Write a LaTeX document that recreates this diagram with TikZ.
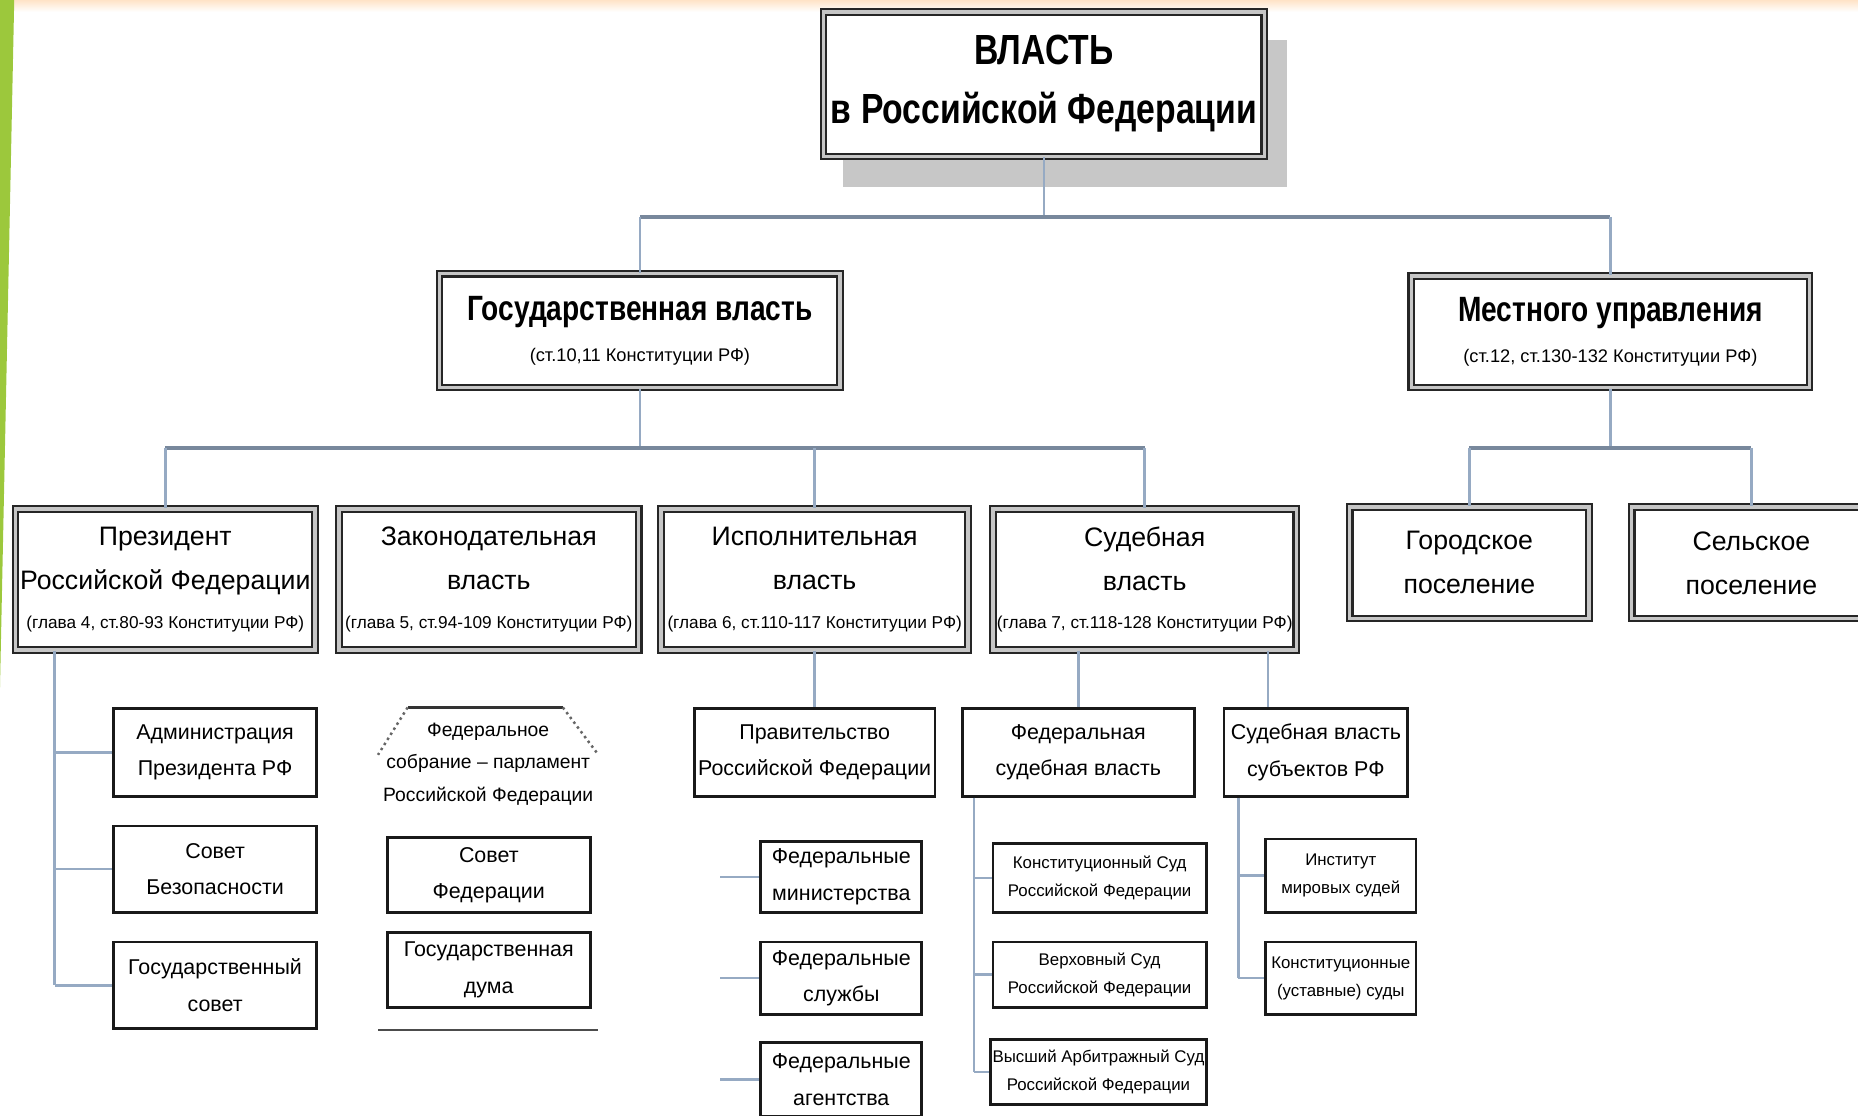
\documentclass[tikz,border=0pt]{standalone}
\usepackage{fontspec}
\setmainfont{Liberation Sans}
\newfontfamily\narrowfont{Liberation Sans}[FakeStretch=0.8]

\definecolor{linkblue}{RGB}{150,170,195}
\definecolor{leafgreen}{RGB}{156,200,60}

\newcommand{\ftitle}{\narrowfont\bfseries\fontsize{12}{16.8}\selectfont}
\newcommand{\fhead}{\narrowfont\bfseries\fontsize{10}{11.5}\selectfont}
\newcommand{\fnote}{\normalfont\fontsize{5.2}{6}\selectfont}
\newcommand{\fbranch}{\fontsize{7.6}{12.5}\selectfont}
\newcommand{\fleaf}{\fontsize{6.1}{10.4}\selectfont}
\newcommand{\fcourt}{\fontsize{4.8}{8}\selectfont}

\tikzset{link/.style={draw=linkblue, line width=0.7pt}}
\tikzset{buslink/.style={draw=linkblue!80!black, line width=1.3pt}}
\tikzset{bigbox/.style={draw=black!85, double=gray!45, double distance=1pt,
    line width=0.6pt, fill=white, align=center, inner sep=0pt}}
\tikzset{smallbox/.style={draw=black!90, line width=0.8pt, fill=white,
    align=center, inner sep=0pt}}
\tikzset{wh/.style 2 args={minimum width=#1*0.01185cm, minimum height=#2*0.01185cm}}

\begin{document}
\begin{tikzpicture}[x=0.01185cm, y=-0.01185cm]
    \useasboundingbox (0,0) rectangle (1568,941);

    % slide decoration
    \shade[top color=orange!22, bottom color=white] (0,0) rectangle (1568,10);
    \fill[leafgreen] (0,0) -- (12,0) -- (0,580) -- cycle;

    % shadow of the title
    \fill[black!22] (711,34) rectangle (1086,158);

    % Top
    \node[bigbox, wh={372}{122}, font=\ftitle] (title) at (881,71)
        {ВЛАСТЬ\\в Российской Федерации};

    \node[bigbox, wh={338}{96}, font=\fhead] (gos) at (540,279)
        {Государственная власть\\{\fnote (ст.10,11 Конституции РФ)}};
    \node[bigbox, wh={336}{94}, font=\fhead] (mest) at (1359,280)
        {Местного управления\\{\fnote (ст.12, ст.130-132 Конституции РФ)}};

    % Branches
    \node[bigbox, wh={253}{119}, font=\fbranch] (pres) at (139.5,489)
        {Президент\\Российской Федерации\\[-1.5pt]{\fontsize{4.9}{6}\selectfont (глава 4, ст.80-93 Конституции РФ)}};
    \node[bigbox, wh={253}{119}, font=\fbranch] (zak) at (412.5,489)
        {Законодательная\\власть\\[-1.5pt]{\fontsize{4.9}{6}\selectfont (глава 5, ст.94-109 Конституции РФ)}};
    \node[bigbox, wh={259}{119}, font=\fbranch] (isp) at (687.5,489)
        {Исполнительная\\власть\\[-1.5pt]{\fontsize{4.9}{6}\selectfont (глава 6, ст.110-117 Конституции РФ)}};
    \node[bigbox, wh={256}{119}, font=\fbranch] (sud) at (966,489)
        {Судебная\\власть\\[-1.5pt]{\fontsize{4.9}{6}\selectfont (глава 7, ст.118-128 Конституции РФ)}};

    \node[bigbox, wh={202}{94}, font=\fbranch] (gor) at (1240,475) {Городское\\поселение};
    \node[bigbox, wh={202}{94}, font=\fbranch] (sel) at (1478,475) {Сельское\\поселение};

    % President
    \node[smallbox, wh={171}{74}, font=\fleaf] (adm) at (181.5,635) {Администрация\\Президента РФ};
    \node[smallbox, wh={171}{73}, font=\fleaf] (sovbez) at (181.5,733.5) {Совет\\Безопасности};
    \node[smallbox, wh={171}{73}, font=\fleaf] (gossov) at (181.5,831.5) {Государственный\\совет};

    % Parliament
    \node[align=center, inner sep=0pt, font={\fontsize{5.5}{9.3}\selectfont}] (fedsob) at (412,645)
        {Федеральное\\собрание – парламент\\Российской Федерации};
    \draw[line width=0.7pt, black!80] (344,597) -- (475,597);
    \draw[densely dotted, line width=0.7pt, black!60] (344,597) -- (319,637);
    \draw[densely dotted, line width=0.7pt, black!60] (475,597) -- (505,637);
    \draw[line width=0.7pt, black!70] (319,869) -- (505,869);
    \node[smallbox, wh={171}{63}, font=\fleaf] (sovfed) at (412.5,738.5) {Совет\\Федерации};
    \node[smallbox, wh={171}{63}, font=\fleaf] (gosduma) at (412.5,818.5) {Государственная\\дума};

    % Government
    \node[smallbox, wh={203}{74}, font=\fleaf] (prav) at (687.5,635) {Правительство\\Российской Федерации};
    \node[smallbox, wh={136}{60}, font=\fleaf] (minist) at (710,740) {Федеральные\\министерства};
    \node[smallbox, wh={136}{61}, font=\fleaf] (sluzh) at (710,825.5) {Федеральные\\службы};
    \node[smallbox, wh={136}{62}, font=\fleaf] (agent) at (710,911) {Федеральные\\агентства};

    % Courts
    \node[smallbox, wh={196}{74}, font=\fleaf] (fedsud) at (910,635) {Федеральная\\судебная власть};
    \node[smallbox, wh={180}{58}, font=\fcourt] (konsud) at (928,741) {Конституционный Суд\\Российской Федерации};
    \node[smallbox, wh={180}{55}, font=\fcourt] (versud) at (928,822.5) {Верховный Суд\\Российской Федерации};
    \node[smallbox, wh={182}{55}, font=\fcourt] (arbsud) at (927,904.5) {Высший Арбитражный Суд\\Российской Федерации};

    \node[smallbox, wh={155}{74}, font=\fleaf] (subj) at (1110.5,635) {Судебная власть\\субъектов РФ};
    \node[smallbox, wh={127}{62}, font=\fcourt] (mirsud) at (1131.5,739) {Институт\\мировых судей};
    \node[smallbox, wh={127}{61}, font=\fcourt] (ustsud) at (1131.5,825.5) {Конституционные\\(уставные) суды};

    % Connectors
    \coordinate (busA) at (0,183);
    \coordinate (busB) at (0,378);
    \coordinate (presx) at (46,0);
    \coordinate (pravx) at (608,0);
    \coordinate (fedx) at (822,0);
    \coordinate (subjx) at (1070,0);
    \coordinate (subjv) at (1045,0);

    \draw[link] (title.south) -- (title.south |- busA);
    \draw[buslink] (gos.north |- busA) -- (mest.north |- busA);
    \draw[link] (gos.north |- busA) -- (gos.north);
    \draw[link] (mest.north |- busA) -- (mest.north);

    \draw[link] (gos.south) -- (gos.south |- busB);
    \draw[buslink] (pres.north |- busB) -- (sud.north |- busB);
    \draw[link] (pres.north |- busB) -- (pres.north);
    \draw[link] (isp.north |- busB) -- (isp.north);
    \draw[link] (sud.north |- busB) -- (sud.north);

    \draw[link] (mest.south) -- (mest.south |- busB);
    \draw[buslink] (gor.north |- busB) -- (sel.north |- busB);
    \draw[link] (gor.north |- busB) -- (gor.north);
    \draw[link] (sel.north |- busB) -- (sel.north);

    \draw[link] (pres.south -| presx) -- (gossov.west -| presx);
    \draw[link] (adm.west -| presx) -- (adm.west);
    \draw[link] (sovbez.west -| presx) -- (sovbez.west);
    \draw[link] (gossov.west -| presx) -- (gossov.west);

    \draw[link] (isp.south) -- (prav.north);
    \draw[link] (minist.west -| pravx) -- (minist.west);
    \draw[link] (sluzh.west -| pravx) -- (sluzh.west);
    \draw[link] (agent.west -| pravx) -- (agent.west);

    \draw[link] (fedsud.north |- sud.south) -- (fedsud.north);
    \draw[link] (fedsud.south -| fedx) -- (arbsud.west -| fedx);
    \draw[link] (konsud.west -| fedx) -- (konsud.west);
    \draw[link] (versud.west -| fedx) -- (versud.west);
    \draw[link] (arbsud.west -| fedx) -- (arbsud.west);

    \draw[link] (sud.south -| subjx) -- (subj.north -| subjx);
    \draw[link] (subj.south -| subjv) -- (ustsud.west -| subjv);
    \draw[link] (mirsud.west -| subjv) -- (mirsud.west);
    \draw[link] (ustsud.west -| subjv) -- (ustsud.west);
\end{tikzpicture}
\end{document}
